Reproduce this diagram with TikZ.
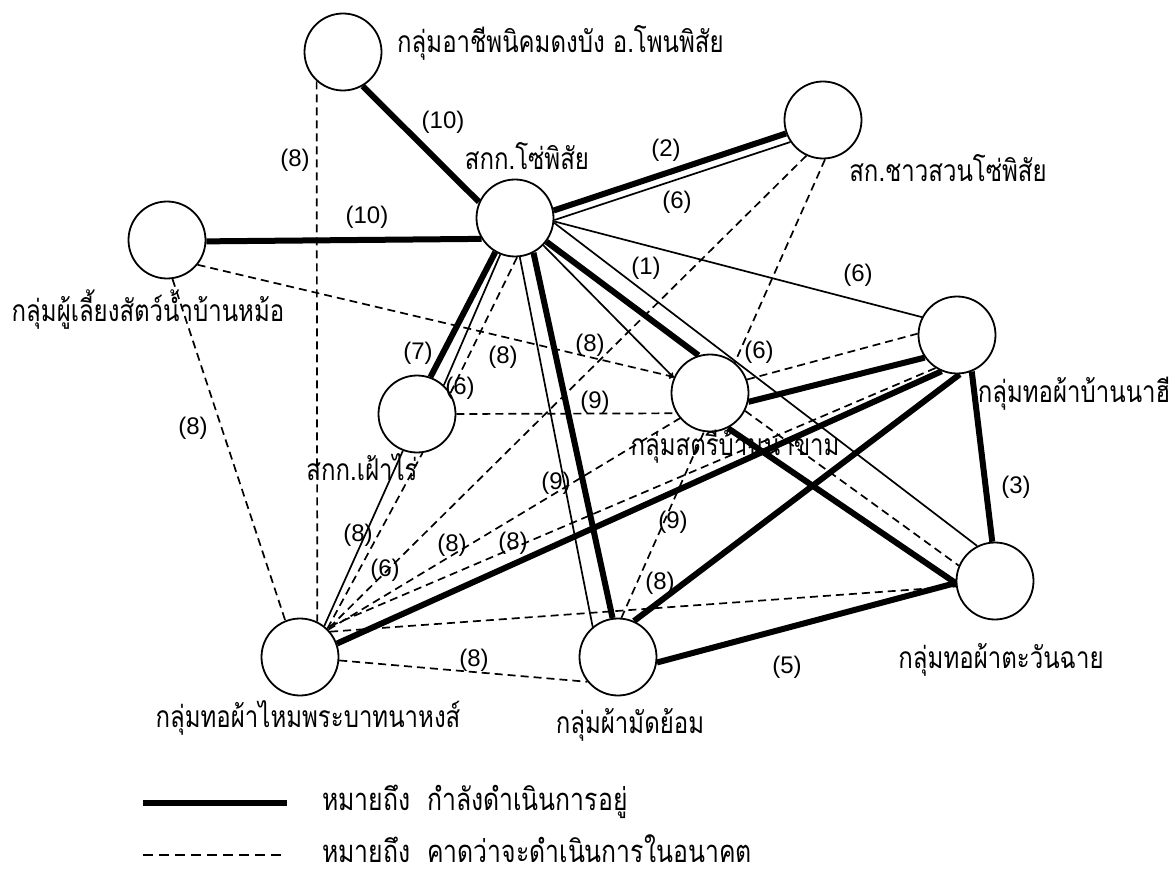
\documentclass[tikz,border=0pt]{standalone}
\usepackage{fontspec}
\newfontfamily\thaifont[Script=Thai,FakeStretch=0.8]{Loma}
\newfontfamily\numfont{Liberation Sans}
\usetikzlibrary{arrows.meta}
\pgfdeclarelayer{bg}
\pgfsetlayers{bg,main}
\begin{document}
\begin{tikzpicture}[x=1pt,y=-1pt,
  grp/.style={circle, draw, line width=1.8pt, fill=white, minimum size=77pt, inner sep=0pt},
  cur/.style={line width=6pt},
  thinln/.style={line width=1.7pt},
  fut/.style={line width=1.7pt, dash pattern=on 8pt off 5pt},
  num/.style={font=\numfont\fontsize{24}{24}\selectfont, inner sep=0pt},
  lbl/.style={font=\thaifont\fontsize{30}{30}\selectfont, inner sep=0pt, anchor=base},
  leg/.style={font=\thaifont\fontsize{31}{31}\selectfont, inner sep=0pt, anchor=base west},
  endtip/.style={-{To[length=5pt,width=6pt]}}]
\useasboundingbox (0,0) rectangle (1173,877);
% groups
\node[grp] (A) at (343,52) {};
\node[grp] (S) at (515,218) {};
\node[grp] (C) at (823,120) {};
\node[grp] (P) at (167,240) {};
\node[grp] (F) at (417,414) {};
\node[grp] (W) at (710,393) {};
\node[grp] (N) at (957,335) {};
\node[grp] (T) at (995,581) {};
\node[grp] (M) at (300,657) {};
\node[grp] (D) at (618,657) {};
% connectors
\begin{pgfonlayer}{bg}
\draw[cur] (A.-60) -- (S.156);
\draw[fut] (A.-132) -- (M.64);
\draw[cur] (P.-2) -- (S.212);
\draw[fut,endtip] (P.-39) -- (W.156);
\draw[fut] (P.-82) -- (M.112);
\draw[cur] (S.11) -- (C.-160);
\draw[thinln] (S.-3) -- (C.-146);
\draw[thinln] (S.-5) -- (N.153);
\draw[cur] (S.-37) -- (W.107);
\draw[thinln,endtip] (S.-44) -- (W.157);
\draw[thinln] (S.-7) -- (T.117);
\draw[cur] (S.-120) -- (F.70);
\draw[thinln] (S.-112) -- (F.47);
\draw[fut] (S.-87) -- (F.32);
\draw[thinln] (S.-83) -- (D.130);
\draw[cur] (S.-62) -- (D.98);
\draw[fut] (F.0) -- (W.211);
\draw[cur] (W.-13) -- (N.215);
\draw[fut] (W.20) -- (N.178);
\draw[fut] (W.-27) -- (T.157);
\draw[cur] (W.-63) -- (T.183);
\draw[cur] (N.-68) -- (T.94);
\draw[cur] (N.-113) -- (M.20);
\draw[fut] (N.-123) -- (M.48);
\draw[cur] (N.-86) -- (D.66);
\draw[cur] (D.-8) -- (T.183);
\draw[fut] (M.40) -- (T.188);
\draw[fut] (M.-5) -- (D.-141);
\draw[fut] (C.-115) -- (M.45);
\draw[fut] (C.-87) -- (D.85);
\draw[fut] (M.44) -- (W.220);
\draw[thinln] (M.52) -- (F.-111);
\draw[fut] (M.46) -- (F.-82);
\end{pgfonlayer}
% group labels
\node[lbl, anchor=base west] (lA) at (397,53) {กลุ่มอาชีพนิคมดงบัง อ.โพนพิสัย};
\node[lbl] (lS) at (527,170) {สกก.โซ่พิสัย};
\node[lbl] (lC) at (948,182) {สก.ชาวสวนโซ่พิสัย};
\node[lbl] (lP) at (148,322) {กลุ่มผู้เลี้ยงสัตว์น้ำบ้านหม้อ};
\node[lbl] (lF) at (362,480) {สกก.เฝ้าไร่};
\node[lbl] (lW) at (735,455) {กลุ่มสตรีบ้านนาขาม};
\node[lbl] (lN) at (1074,402) {กลุ่มทอผ้าบ้านนาฮี};
\node[lbl] (lT) at (1001,668) {กลุ่มทอผ้าตะวันฉาย};
\node[lbl] (lM) at (308,727) {กลุ่มทอผ้าไหมพระบาทนาหงส์};
\node[lbl] (lD) at (630,733) {กลุ่มผ้ามัดย้อม};
% numbers
\node[num] (n1) at (443,122) {(10)};
\node[num] (n2) at (295,160) {(8)};
\node[num] (n3) at (367,217) {(10)};
\node[num] (n4) at (666,150) {(2)};
\node[num] (n5) at (677,202) {(6)};
\node[num] (n6) at (858,275) {(6)};
\node[num] (n7) at (646,268) {(1)};
\node[num] (n8) at (418,353) {(7)};
\node[num] (n9) at (460,388) {(6)};
\node[num] (n10) at (503,357) {(8)};
\node[num] (n11) at (590,345) {(8)};
\node[num] (n12) at (595,402) {(9)};
\node[num] (n13) at (759,352) {(6)};
\node[num] (n14) at (193,428) {(8)};
\node[num] (n15) at (556,483) {(9)};
\node[num] (n16) at (673,522) {(9)};
\node[num] (n17) at (1016,487) {(3)};
\node[num] (n18) at (358,535) {(8)};
\node[num] (n19) at (385,570) {(6)};
\node[num] (n20) at (452,545) {(8)};
\node[num] (n21) at (513,543) {(8)};
\node[num] (n22) at (660,583) {(8)};
\node[num] (n23) at (474,660) {(8)};
\node[num] (n24) at (787,667) {(5)};
% legend
\coordinate (L1a) at (143,803);
\coordinate (L1b) at (287,803);
\coordinate (L2a) at (143,855);
\coordinate (L2b) at (287,855);
\draw[cur] (L1a) -- (L1b);
\draw[line width=1.7pt, dash pattern=on 10pt off 6pt] (L2a) -- (L2b);
\node[leg] (lg1) at (322,810) {หมายถึง\ \ กำลังดำเนินการอยู่};
\node[leg] (lg2) at (322,862) {หมายถึง\ \ คาดว่าจะดำเนินการในอนาคต};
\end{tikzpicture}
\end{document}
